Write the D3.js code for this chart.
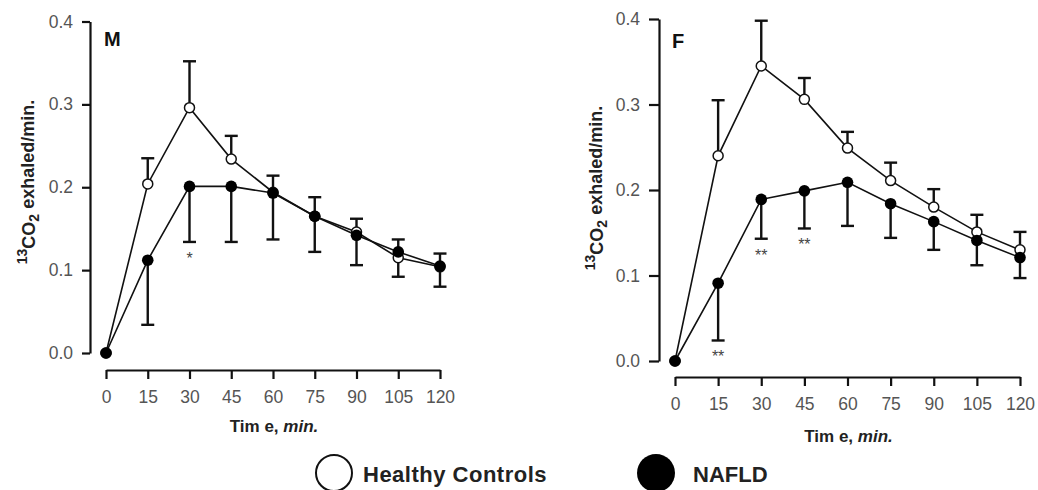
<!DOCTYPE html>
<html>
<head>
<meta charset="utf-8">
<script src="https://cdn.jsdelivr.net/npm/d3@7"></script>
<style>
  html, body { margin: 0; padding: 0; background: #fff; }
  svg { display: block; font-family: "Liberation Sans", Arial, sans-serif; }
</style>
</head>
<body>
<svg id="chart" width="1038" height="490"></svg>
<script>
// ---------- data ----------
const times = [0, 15, 30, 45, 60, 75, 90, 105, 120];
const yTicks = [0.0, 0.1, 0.2, 0.3, 0.4];
const seriesNames = ["Healthy Controls", "NAFLD"];

// Males (M)
const mHealthy    = [0, 0.204, 0.296, 0.234, 0.194, 0.165, 0.146, 0.115, 0.104];
const mHealthySE  = [0, 0.031, 0.056, 0.028, 0.020, 0.023, 0.016, 0.022, 0.016];
const mNafld      = [0, 0.112, 0.201, 0.201, 0.193, 0.165, 0.142, 0.122, 0.105];
const mNafldSE    = [0, 0.078, 0.067, 0.067, 0.056, 0.043, 0.036, 0.030, 0.025];
const mSignif     = ["", "", "*", "", "", "", "", "", ""];

// Females (F)
const fHealthy    = [0, 0.240, 0.345, 0.306, 0.249, 0.211, 0.180, 0.151, 0.130];
const fHealthySE  = [0, 0.065, 0.053, 0.025, 0.019, 0.021, 0.021, 0.020, 0.021];
const fNafld      = [0, 0.091, 0.189, 0.199, 0.209, 0.184, 0.163, 0.141, 0.121];
const fNafldSE    = [0, 0.067, 0.046, 0.044, 0.051, 0.040, 0.033, 0.029, 0.024];
const fSignif     = ["", "**", "**", "**", "", "", "", "", ""];

// ---------- drawing ----------
const svg = d3.select("#chart");

function panel(cfg) {
  const g = svg.append("g");
  const x = d3.scaleLinear().domain([0, 120]).range([cfg.x0, cfg.x1]);
  const y = d3.scaleLinear().domain([0, 0.4]).range([cfg.y0, cfg.y1]);

  // Y axis
  const ya = g.append("g")
    .attr("transform", `translate(${cfg.yAxisX},0)`)
    .call(d3.axisLeft(y).tickValues(yTicks).tickFormat(d3.format(".1f"))
      .tickSize(cfg.yTick).tickPadding(9).tickSizeOuter(0));
  ya.select(".domain").attr("stroke", "#111").attr("stroke-width", 2.2);
  ya.selectAll(".tick line").attr("stroke", "#111").attr("stroke-width", 2.2);
  ya.selectAll(".tick text").attr("fill", "#555").style("font-size", "17.5px");

  // X axis
  const xa = g.append("g")
    .attr("transform", `translate(0,${cfg.xAxisY})`)
    .call(d3.axisBottom(x).tickValues(times).tickSize(9).tickPadding(12).tickSizeOuter(0));
  xa.select(".domain").attr("stroke", "#111").attr("stroke-width", 2.2);
  xa.selectAll(".tick line").attr("stroke", "#111").attr("stroke-width", 2.2);
  xa.selectAll(".tick text").attr("fill", "#555").style("font-size", "17.5px");

  // axis titles
  const xt = g.append("text")
    .attr("x", (cfg.x0 + cfg.x1) / 2 + 1).attr("y", cfg.xTitleY)
    .attr("text-anchor", "middle").attr("font-weight", "bold")
    .style("font-size", "17px").attr("fill", "#222");
  xt.append("tspan").text("Tim e, ");
  xt.append("tspan").attr("font-style", "italic").text("min.");

  const yt = g.append("text")
    .attr("transform", `translate(${cfg.yTitleX},${cfg.yTitleY}) rotate(-90)`)
    .attr("text-anchor", "middle").attr("font-weight", "bold")
    .style("font-size", "18px").attr("fill", "#222");
  yt.append("tspan").attr("dy", "-0.45em").style("font-size", "14px").text("13");
  yt.append("tspan").attr("dy", "0.45em").text("CO");
  yt.append("tspan").attr("dy", "0.3em").style("font-size", "14px").text("2");
  yt.append("tspan").attr("dy", "-0.3em").text(" exhaled/min.");

  // panel label
  g.append("text").attr("x", cfg.labelX).attr("y", cfg.labelY)
    .attr("font-weight", "bold").style("font-size", "20px").attr("fill", "#111")
    .text(cfg.label);

  const line = d3.line().x((d, i) => x(times[i])).y(d => y(d));

  // lines
  [cfg.healthy, cfg.nafld].forEach(s => {
    g.append("path").datum(s).attr("d", line)
      .attr("fill", "none").attr("stroke", "#111").attr("stroke-width", 1.6);
  });

  // error bars: healthy upward, NAFLD downward
  function errBars(vals, se, dir) {
    const cap = 6.5;
    vals.forEach((v, i) => {
      if (!se[i]) return;
      const end = v + dir * se[i];
      g.append("line").attr("x1", x(times[i])).attr("x2", x(times[i]))
        .attr("y1", y(v)).attr("y2", y(end))
        .attr("stroke", "#111").attr("stroke-width", 2.4);
      g.append("line").attr("x1", x(times[i]) - cap).attr("x2", x(times[i]) + cap)
        .attr("y1", y(end)).attr("y2", y(end))
        .attr("stroke", "#111").attr("stroke-width", 2.4);
    });
  }
  errBars(cfg.healthy, cfg.healthySE, 1);
  errBars(cfg.nafld, cfg.nafldSE, -1);

  // points
  g.selectAll(".hc").data(cfg.healthy).enter().append("circle")
    .attr("cx", (d, i) => x(times[i])).attr("cy", d => y(d)).attr("r", 5)
    .attr("fill", "#fff").attr("stroke", "#111").attr("stroke-width", 1.5);
  g.selectAll(".nf").data(cfg.nafld).enter().append("circle")
    .attr("cx", (d, i) => x(times[i])).attr("cy", d => y(d)).attr("r", 5.8)
    .attr("fill", "#000");

  // significance markers
  cfg.signif.forEach((s, i) => {
    if (!s) return;
    const lo = cfg.nafld[i] - cfg.nafldSE[i];
    g.append("text").attr("x", x(times[i])).attr("y", y(lo) + 22)
      .attr("text-anchor", "middle").style("font-size", "16px").attr("fill", "#444")
      .text(s);
  });
}

panel({
  x0: 106, x1: 440, y0: 353, y1: 21.5, yAxisX: 90, xAxisY: 370, yTick: 8,
  xTitleY: 432, yTitleX: 33, yTitleY: 182, labelX: 104, labelY: 46, label: "M",
  healthy: mHealthy, healthySE: mHealthySE, nafld: mNafld, nafldSE: mNafldSE, signif: mSignif
});
panel({
  x0: 675, x1: 1020, y0: 361, y1: 19, yAxisX: 659, xAxisY: 377, yTick: 10,
  xTitleY: 442, yTitleX: 601, yTitleY: 188, labelX: 672, labelY: 48, label: "F",
  healthy: fHealthy, healthySE: fHealthySE, nafld: fNafld, nafldSE: fNafldSE, signif: fSignif
});

// legend
const leg = svg.append("g");
leg.append("circle").attr("cx", 334).attr("cy", 473).attr("r", 18)
  .attr("fill", "#fff").attr("stroke", "#111").attr("stroke-width", 2);
leg.append("text").attr("x", 363).attr("y", 482).attr("font-weight", "bold")
  .style("font-size", "22px").attr("fill", "#222").attr("letter-spacing", "0.5px")
  .text(seriesNames[0]);
leg.append("circle").attr("cx", 656).attr("cy", 473).attr("r", 19).attr("fill", "#000");
leg.append("text").attr("x", 693).attr("y", 482).attr("font-weight", "bold")
  .style("font-size", "22px").attr("fill", "#222").text(seriesNames[1]);
</script>
</body>
</html>
